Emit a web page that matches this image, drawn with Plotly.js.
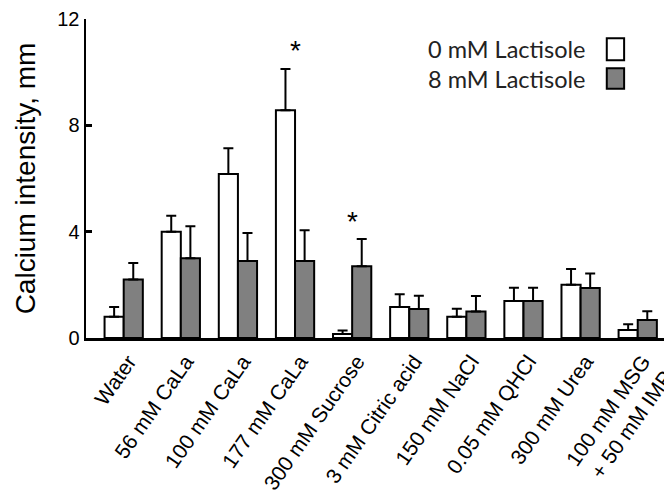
<!DOCTYPE html>
<html>
<head>
<meta charset="utf-8">
<script src="https://cdn.plot.ly/plotly-3.0.1.min.js"></script>
<style>html,body{margin:0;padding:0;background:#fff;}#chart{width:664px;height:500px;}</style>
</head>
<body>
<div id="chart"></div>
<script>
const categories = ["Water", "56 mM CaLa", "100 mM CaLa", "177 mM CaLa", "300 mM Sucrose",
  "3 mM Citric acid", "150 mM NaCl", "0.05 mM QHCl", "300 mM Urea", "100 mM MSG<br>+ 50 mM IMP"];
const lact0 = [0.8, 4.0, 6.17, 8.57, 0.15, 1.17, 0.8, 1.39, 2.0, 0.3];
const lact0Err = [0.37, 0.6, 0.97, 1.55, 0.13, 0.48, 0.3, 0.5, 0.6, 0.22];
const lact8 = [2.2, 3.0, 2.9, 2.9, 2.7, 1.09, 1.0, 1.39, 1.88, 0.68];
const lact8Err = [0.62, 1.2, 1.05, 1.15, 1.02, 0.5, 0.58, 0.5, 0.55, 0.33];
const significant = [false, false, false, true, true, false, false, false, false, false];
const seriesNames = ["0 mM Lactisole", "8 mM Lactisole"];
const yTicks = [0, 4, 8, 12];

const axisFont = {family: "Liberation Sans, Arial, sans-serif", size: 20, color: "#000"};
const xTickFont = {family: "Liberation Sans, Arial, sans-serif", size: 21, color: "#000"};

const errStyle = {type: "data", symmetric: false, color: "#000", thickness: 2, width: 5};

const traces = [
  {type: "bar", name: seriesNames[0], x: categories, y: lact0,
   marker: {color: "#ffffff", line: {color: "#000", width: 2}},
   error_y: Object.assign({array: lact0Err, arrayminus: lact0.map(() => 0)}, errStyle)},
  {type: "bar", name: seriesNames[1], x: categories, y: lact8,
   marker: {color: "#808080", line: {color: "#000", width: 2}},
   error_y: Object.assign({array: lact8Err, arrayminus: lact8.map(() => 0)}, errStyle)}
];

const annotations = [];
categories.forEach((c, i) => {
  if (significant[i]) {
    const top = Math.max(lact0[i] + lact0Err[i], lact8[i] + lact8Err[i]);
    annotations.push({x: c, y: top, xref: "x", yref: "y", text: "*", showarrow: false,
      yanchor: "middle", yshift: 18,
      font: {family: "Liberation Sans, Arial, sans-serif", size: 28, color: "#000"}});
  }
});

const legendFont = {family: "Lato, Open Sans, sans-serif", size: 23.5, color: "#222"};
annotations.push({xref: "paper", yref: "paper", x: 0.869, y: 0.906, xanchor: "right", yanchor: "middle",
  text: seriesNames[0], showarrow: false, font: legendFont});
annotations.push({xref: "paper", yref: "paper", x: 0.869, y: 0.812, xanchor: "right", yanchor: "middle",
  text: seriesNames[1], showarrow: false, font: legendFont});

const shapes = [
  {type: "rect", xref: "paper", yref: "paper", x0: 0.901, x1: 0.931, y0: 0.871, y1: 0.940,
   fillcolor: "#ffffff", line: {color: "#000", width: 2}},
  {type: "rect", xref: "paper", yref: "paper", x0: 0.901, x1: 0.931, y0: 0.781, y1: 0.846,
   fillcolor: "#808080", line: {color: "#000", width: 2}}
];

const layout = {
  width: 664, height: 500,
  margin: {l: 86, r: 0, t: 19, b: 162, pad: 0},
  paper_bgcolor: "#fff", plot_bgcolor: "#fff",
  showlegend: false,
  barmode: "group", bargap: 0.33, bargroupgap: 0,
  xaxis: {
    type: "category", range: [-0.66, 9.46],
    showline: true, linecolor: "#000", linewidth: 3,
    showgrid: false, zeroline: false, ticks: "",
    tickangle: -55, tickfont: xTickFont, automargin: false,
    ticklabelstandoff: 0, ticklabelshift: 5
  },
  yaxis: {
    range: [0, 12], tickvals: yTicks, ticktext: yTicks.map(String),
    showline: true, linecolor: "#000", linewidth: 2.5, mirror: false,
    ticks: "inside", ticklen: 6, tickwidth: 2.5, tickcolor: "#000",
    showgrid: false, zeroline: false, tickfont: axisFont, automargin: false,
    title: {text: "Calcium intensity, mm", font: {family: "Liberation Sans, Arial, sans-serif", size: 28, color: "#000"}, standoff: 14}
  },
  annotations: annotations,
  shapes: shapes
};

Plotly.newPlot("chart", traces, layout, {displayModeBar: false, staticPlot: true});
</script>
</body>
</html>
